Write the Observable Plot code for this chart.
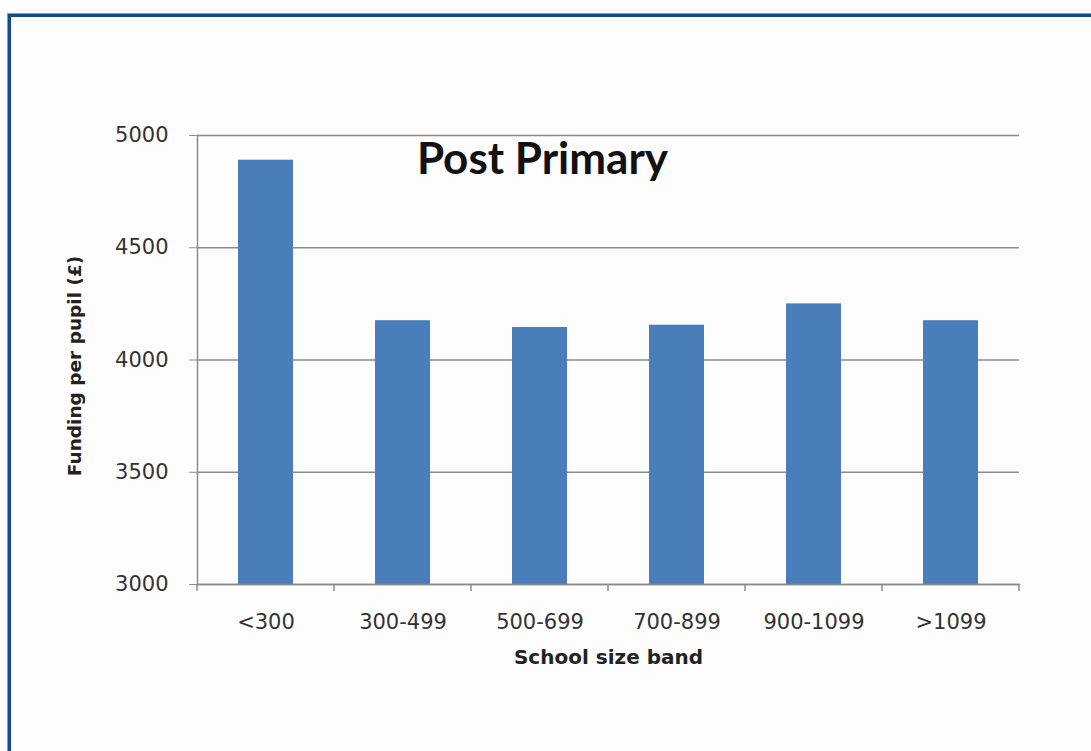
<!DOCTYPE html>
<html>
<head>
<meta charset="utf-8">
<script src="https://cdn.jsdelivr.net/npm/d3@7"></script>
<script src="https://cdn.jsdelivr.net/npm/@observablehq/plot@0.6"></script>
<style>
  html, body { margin: 0; padding: 0; background: #ffffff; }
  #wrap { position: relative; width: 1091px; height: 751px; overflow: hidden; background: #ffffff; }
  #frame { position: absolute; left: 8px; top: 14px; width: 1200px; height: 800px;
           border-top: 3px solid #134a8b; border-left: 3px solid #134a8b;
           box-shadow: -1px -1px 0 #7fa0c9; background: #fdfdfd; }
  #chart { position: absolute; left: 0; top: 0; }
</style>
</head>
<body>
<div id="wrap">
  <div id="frame"></div>
  <div id="chart"></div>
</div>
<script>
const bands = ["<300", "300-499", "500-699", "700-899", "900-1099", ">1099"];
const funding = [4890, 4175, 4145, 4155, 4250, 4175];
const yTicks = [3000, 3500, 4000, 4500, 5000];
const chartTitle = "Post Primary";
const yTitle = "Funding per pupil (£)";
const xTitle = "School size band";

const data = bands.map((b, i) => ({band: b, funding: funding[i]}));
const yMin = yTicks[0];
const yMax = yTicks[yTicks.length - 1];
const gray = "#8c8c8c";

function boundaryTicks(index, scales, values, dimensions) {
  const x = scales.x;
  const bw = typeof x.bandwidth === "function" ? x.bandwidth() : x.bandwidth;
  const centers = bands.map(b => x(b) + bw / 2);
  const step = centers[1] - centers[0];
  const edges = centers.map(c => c - step / 2).concat([centers[centers.length - 1] + step / 2]);
  const y0 = dimensions.height - dimensions.marginBottom;
  const g = d3.create("svg:g");
  g.selectAll("line").data(edges).join("line")
    .attr("x1", d => d).attr("x2", d => d)
    .attr("y1", y0).attr("y2", y0 + 7)
    .attr("stroke", gray).attr("stroke-width", 1.5);
  return g.node();
}

const plot = Plot.plot({
  width: 1091,
  height: 751,
  marginLeft: 197,
  marginRight: 72,
  marginTop: 135,
  marginBottom: 167,
  style: {background: "transparent", fontFamily: "DejaVu Sans", color: "#333"},
  x: {type: "band", domain: bands, paddingInner: 0.6, paddingOuter: 0.3, label: null},
  y: {domain: [yMin, yMax], label: null},
  marks: [
    Plot.ruleY(yTicks, {stroke: gray, strokeWidth: 1.4}),
    Plot.barY(data, {x: "band", y1: yMin, y2: "funding", fill: "#4a7ebb"}),
    Plot.frame({anchor: "left", stroke: gray, strokeWidth: 1.5}),
    Plot.frame({anchor: "bottom", stroke: gray, strokeWidth: 1.5}),
    Plot.axisY({ticks: yTicks, tickSize: 8, tickPadding: 21, tickFormat: d => String(d), fontSize: 21, stroke: gray, label: null, fill: "#333"}),
    Plot.axisX({tickSize: 0, tickPadding: 30, fontSize: 21, label: null, fill: "#333"}),
    boundaryTicks,
    Plot.text([yTitle], {frameAnchor: "left", textAnchor: "middle", rotate: -90, dx: -122, dy: 6, fontWeight: "bold", fontSize: 18.5, fill: "#222"}),
    Plot.text([xTitle], {frameAnchor: "bottom", dy: 79, fontWeight: "bold", fontSize: 20, fill: "#222"}),
    Plot.text([chartTitle], {frameAnchor: "top", lineAnchor: "top", dx: -66, dy: 7, fontFamily: "Lato", fontWeight: "bold", fontSize: 44, fill: "#111"})
  ]
});
document.getElementById("chart").appendChild(plot);
</script>
</body>
</html>
